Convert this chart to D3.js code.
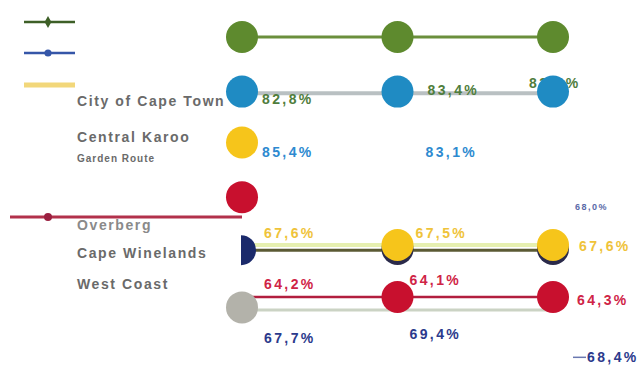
<!DOCTYPE html>
<html>
<head>
<meta charset="utf-8">
<script src="https://cdn.jsdelivr.net/npm/d3@7/dist/d3.min.js"></script>
<style>
  html, body { margin: 0; padding: 0; background: #fff; }
  #chart { width: 643px; height: 372px; }
  text { font-family: "Liberation Sans", Arial, sans-serif; }
</style>
</head>
<body>
<div id="chart"></div>
<script>
// 列（三个时间点）
const columns = ["2016", "2017", "2018"];

// 地区名称
const regions = ["City of Cape Town", "Central Karoo", "Garden Route", "Overberg", "Cape Winelands", "West Coast"];

// 每条序列所在的行（层级）和颜色
const seriesNames = ["green", "blue", "yellow", "red", "gold", "crimson", "grey"];
const seriesRows = [0, 1.05, 2.03, 3.08, 4, 5, 5.2];
const seriesColors = ["#5e8a2e", "#1f8bc3", "#f6c51b", "#c8102e", "#f6c51b", "#c8102e", "#b3b2aa"];
// 每列是否有圆点
const seriesDots = [
    [1, 1, 1],
    [1, 1, 1],
    [1, 0, 0],
    [1, 0, 0],
    [0, 1, 1],
    [0, 1, 1],
    [1, 0, 0]
];

// 数值标签
const valuesOlive = [82.8, 83.4, 83.6];
const valuesBlue = [85.4, 83.1, null];
const valuesNavyTop = [null, null, 68.0];
const valuesYellow = [67.6, 67.5, 67.6];
const valuesRed = [64.2, 64.1, 64.3];
const valuesNavy = [67.7, 69.4, 68.4];

const width = 643, height = 372;

const svg = d3.select("#chart")
    .append("svg")
    .attr("viewBox", [0, 0, width, height])
    .attr("width", width)
    .attr("height", height);

const x = d3.scalePoint()
    .domain(columns)
    .range([242, 553]);

const y = d3.scaleLinear()
    .domain([0, 5])
    .range([37, 297]);

const fmt = v => d3.format(".1f")(v).replace(".", ",") + "%";
const r = 16;

// 左侧图例线
const legendItems = [
    { yy: 22, color: "#3d5f27", w: 2.5, marker: "diamond" },
    { yy: 53, color: "#3556a8", w: 2.5, marker: "dot" },
    { yy: 85, color: "#f2d77a", w: 5, marker: "none" }
];
legendItems.forEach(d => {
    svg.append("line")
        .attr("x1", 24).attr("x2", 75)
        .attr("y1", d.yy).attr("y2", d.yy)
        .attr("stroke", d.color)
        .attr("stroke-width", d.w);
    if (d.marker !== "none") {
        svg.append("path")
            .attr("d", d3.symbol(d.marker === "diamond" ? d3.symbolDiamond : d3.symbolCircle, 40)())
            .attr("transform", `translate(48,${d.yy})`)
            .attr("fill", d.color);
    }
});

// 地区名称
const regionY = [101, 137, 158, 225, 253, 284];
svg.selectAll("text.region")
    .data(regions)
    .join("text")
    .attr("class", "region")
    .attr("x", 77)
    .attr("y", (d, i) => regionY[i])
    .attr("dy", "0.35em")
    .attr("fill", (d, i) => i === 3 ? "#8a8a8a" : "#6a6a6a")
    .attr("font-size", (d, i) => i === 2 ? 10 : 14)
    .attr("font-weight", "bold")
    .attr("letter-spacing", (d, i) => i === 2 ? 1 : 1.6)
    .text(d => d);

// 数值标签
function drawLabels(values, color, rows, offsets, size) {
    svg.selectAll(null)
        .data(values.map((v, i) => ({ v, i })).filter(d => d.v !== null))
        .join("text")
        .attr("x", d => x(columns[d.i]) + offsets[d.i])
        .attr("y", d => y(rows[d.i]))
        .attr("dy", "0.35em")
        .attr("fill", color)
        .attr("font-size", size || 14)
        .attr("font-weight", "bold")
        .attr("letter-spacing", size ? 1.5 : 2.4)
        .text(d => fmt(d.v));
}

// 连接线
// 绿色
svg.append("line")
    .attr("x1", x(columns[0])).attr("x2", x(columns[2]))
    .attr("y1", y(0)).attr("y2", y(0))
    .attr("stroke", "#6b8f3c").attr("stroke-width", 3);
// 蓝色行的灰线
svg.append("line")
    .attr("x1", x(columns[0])).attr("x2", x(columns[2]))
    .attr("y1", y(1.08)).attr("y2", y(1.08))
    .attr("stroke", "#b9c0c2").attr("stroke-width", 4);
// 红色引线
svg.append("line")
    .attr("x1", 10).attr("x2", x(columns[0]))
    .attr("y1", y(3.46)).attr("y2", y(3.46))
    .attr("stroke", "#b2314b").attr("stroke-width", 3);
svg.append("circle")
    .attr("cx", 48).attr("cy", y(3.46)).attr("r", 4)
    .attr("fill", "#9a2040");
// 金色行
svg.append("line")
    .attr("x1", x(columns[0])).attr("x2", x(columns[2]))
    .attr("y1", y(4.0)).attr("y2", y(4.0))
    .attr("stroke", "#e6efb0").attr("stroke-width", 4);
svg.append("line")
    .attr("x1", x(columns[0])).attr("x2", x(columns[2]))
    .attr("y1", y(4.1)).attr("y2", y(4.1))
    .attr("stroke", "#5b5a34").attr("stroke-width", 3);
// 灰色线
svg.append("line")
    .attr("x1", x(columns[0])).attr("x2", x(columns[2]))
    .attr("y1", y(5.25)).attr("y2", y(5.25))
    .attr("stroke", "#cbd3c4").attr("stroke-width", 3);
// 红色行
svg.append("line")
    .attr("x1", x(columns[0])).attr("x2", x(columns[2]))
    .attr("y1", y(5)).attr("y2", y(5))
    .attr("stroke", "#b21e3e").attr("stroke-width", 2.5);

// 第一行标签被圆点遮住一部分，先画
drawLabels(valuesOlive, "#4f7d3c", [1.19, 1.02, 0.89], [20, 30, -24]);

// 深蓝半圆标记
svg.append("path")
    .attr("d", d3.arc()({ innerRadius: 0, outerRadius: 15, startAngle: 0, endAngle: Math.PI }))
    .attr("transform", `translate(${x(columns[0]) - 1},${y(4.1)})`)
    .attr("fill", "#1b2a6b");

// 圆点
const dots = [];
seriesNames.forEach((s, i) => {
    seriesDots[i].forEach((has, j) => {
        if (has) dots.push({ s, row: seriesRows[i], col: columns[j], color: seriesColors[i] });
    });
});

// 金色圆点的阴影
svg.selectAll("circle.shadow")
    .data(dots.filter(d => d.s === "gold"))
    .join("circle")
    .attr("class", "shadow")
    .attr("cx", d => x(d.col))
    .attr("cy", d => y(d.row) + 4)
    .attr("r", r)
    .attr("fill", "#2a2a4a");

svg.selectAll("circle.dot")
    .data(dots)
    .join("circle")
    .attr("class", "dot")
    .attr("cx", d => x(d.col))
    .attr("cy", d => y(d.row))
    .attr("r", r)
    .attr("fill", d => d.color);

drawLabels(valuesBlue, "#2d8ad0", [2.21, 2.21, 2.21], [20, 28, 0]);
drawLabels(valuesNavyTop, "#5a6aa8", [0, 0, 3.27], [0, 0, 22], 9);
drawLabels(valuesYellow, "#efc33a", [3.77, 3.77, 4.02], [22, 18, 26]);
drawLabels(valuesRed, "#cf2446", [4.75, 4.67, 5.06], [22, 12, 24]);
drawLabels(valuesNavy, "#2b3a8c", [5.79, 5.71, 6.16], [22, 12, 34]);

// 最后一个深蓝标签前的短线
svg.append("line")
    .attr("x1", x(columns[2]) + 20).attr("x2", x(columns[2]) + 33)
    .attr("y1", y(6.16)).attr("y2", y(6.16))
    .attr("stroke", "#6a78b0").attr("stroke-width", 1.5);
</script>
</body>
</html>
